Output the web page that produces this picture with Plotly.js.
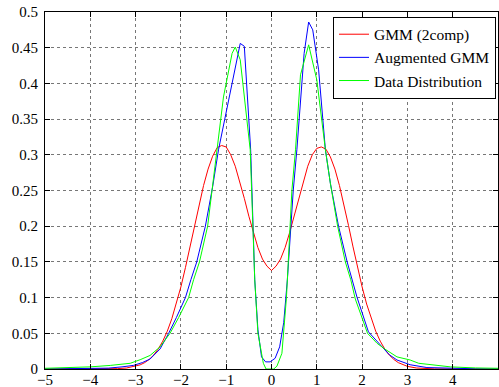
<!DOCTYPE html>
<html>
<head>
<meta charset="utf-8">
<script src="https://cdn.plot.ly/plotly-3.0.1.min.js"></script>
<style>html,body{margin:0;padding:0;background:#fff;}#chart{width:499px;height:387px;}</style>
</head>
<body>
<div id="chart"></div>
<script>
// GMM (2comp)
var gmmX = [-5, -4.5, -4, -3.6, -3.4, -3.2, -3.0, -2.9, -2.8, -2.7, -2.6, -2.5, -2.4, -2.3, -2.2, -2.1, -2.0, -1.9, -1.8, -1.7, -1.6, -1.5, -1.4, -1.3, -1.2, -1.1, -1.0, -0.9, -0.8, -0.7, -0.6, -0.5, -0.4, -0.3, -0.2, -0.1,
  0, 0.1, 0.2, 0.3, 0.4, 0.5, 0.6, 0.7, 0.8, 0.9, 1.0, 1.1, 1.2, 1.3, 1.4, 1.5, 1.6, 1.7, 1.8, 1.9, 2.0, 2.1, 2.2, 2.3, 2.4, 2.5, 2.6, 2.7, 2.8, 2.9, 3.0, 3.2, 3.4, 3.6, 4, 4.5, 5];
var gmmY = [0, 0, 0.00002, 0.0002, 0.0005, 0.0014, 0.0037, 0.0058, 0.0089, 0.0134, 0.0196, 0.028, 0.039, 0.053, 0.0705, 0.091, 0.115, 0.142, 0.171, 0.201, 0.230, 0.257, 0.280, 0.298, 0.310, 0.313, 0.311, 0.300, 0.284, 0.263, 0.239, 0.214, 0.191, 0.170, 0.154, 0.144,
  0.138, 0.144, 0.154, 0.170, 0.191, 0.214, 0.239, 0.263, 0.284, 0.300, 0.309, 0.311, 0.308, 0.297, 0.280, 0.257, 0.230, 0.201, 0.171, 0.142, 0.115, 0.091, 0.0705, 0.053, 0.039, 0.028, 0.0196, 0.0134, 0.0089, 0.0058, 0.0037, 0.0014, 0.0005, 0.0002, 0.00002, 0, 0];

// Augmented GMM
var augX = [-5, -4.5, -4, -3.6, -3.3, -3.05, -2.85, -2.68, -2.46, -2.27, -2.1, -1.9, -1.78, -1.65, -1.46, -1.3, -1.17, -1.0, -0.85, -0.69, -0.6, -0.46, -0.37, -0.3, -0.22, -0.13, -0.03, 0.08, 0.18, 0.27, 0.35, 0.48, 0.56, 0.72, 0.82, 0.91, 1.04, 1.19, 1.3, 1.48, 1.67, 1.78, 1.89, 2.14, 2.4, 2.6, 2.77, 3.06, 3.43, 4, 4.5, 5];
var augY = [0, 0.0003, 0.0006, 0.0012, 0.003, 0.005, 0.009, 0.014, 0.028, 0.05, 0.072, 0.1, 0.125, 0.15, 0.2, 0.255, 0.307, 0.36, 0.41, 0.456, 0.452, 0.307, 0.125, 0.055, 0.017, 0.01, 0.01, 0.015, 0.031, 0.065, 0.125, 0.25, 0.307, 0.442, 0.486, 0.475, 0.419, 0.307, 0.26, 0.2, 0.15, 0.125, 0.1, 0.052, 0.034, 0.02, 0.0126, 0.006, 0.002, 0.0007, 0.0003, 0];

// Data Distribution
var dataX = [-5, -4.5, -4, -3.56, -3.12, -2.9, -2.68, -2.46, -2.24, -2.05, -1.83, -1.72, -1.59, -1.41, -1.2, -1.06, -0.87, -0.8, -0.69, -0.47, -0.37, -0.3, -0.18, -0.12, 0.05, 0.12, 0.23, 0.33, 0.45, 0.53, 0.64, 0.82, 1.0, 1.19, 1.3, 1.46, 1.63, 1.75, 1.85, 2.12, 2.33, 2.5, 2.77, 3.06, 3.25, 3.5, 3.95, 4.5, 5];
var dataY = [0.001, 0.002, 0.003, 0.005, 0.008, 0.013, 0.019, 0.031, 0.05, 0.072, 0.1, 0.125, 0.15, 0.2, 0.307, 0.381, 0.442, 0.451, 0.433, 0.307, 0.125, 0.05, 0.008, 0, 0, 0.004, 0.022, 0.1, 0.25, 0.307, 0.412, 0.454, 0.405, 0.307, 0.26, 0.2, 0.15, 0.125, 0.098, 0.05, 0.036, 0.028, 0.017, 0.0126, 0.008, 0.006, 0.003, 0.0015, 0.001];

var serif = 'Liberation Serif';
var tickFont = {family: serif, size: 15, color: '#000'};

var traces = [
  {x: gmmX, y: gmmY, type: 'scatter', mode: 'lines', name: 'GMM (2comp)', line: {color: '#ff0000', width: 1}},
  {x: augX, y: augY, type: 'scatter', mode: 'lines', name: 'Augmented GMM', line: {color: '#0000ff', width: 1}},
  {x: dataX, y: dataY, type: 'scatter', mode: 'lines', name: 'Data Distribution', line: {color: '#00ff00', width: 1}}
];

var axisCommon = {
  showline: true, linecolor: '#000', linewidth: 1, mirror: 'ticks',
  ticks: 'inside', ticklen: 5, tickcolor: '#000', tickwidth: 1,
  showgrid: true, gridcolor: '#777', griddash: 'dot', gridwidth: 1,
  zeroline: false, tickfont: tickFont
};

var layout = {
  width: 499, height: 387,
  margin: {l: 45, r: 1, t: 12, b: 18, pad: 0},
  paper_bgcolor: '#fff', plot_bgcolor: '#fff',
  showlegend: true,
  font: {family: serif, size: 15, color: '#000'},
  xaxis: Object.assign({}, axisCommon, {range: [-5, 5], tick0: -5, dtick: 1, ticklabelstandoff: -3}),
  yaxis: Object.assign({}, axisCommon, {range: [0, 0.5], tick0: 0, dtick: 0.05, ticklabelstandoff: 3}),
  legend: {x: 0.9956, y: 0.987, xanchor: 'right', yanchor: 'top', bgcolor: '#fff', bordercolor: '#000', borderwidth: 1, font: {family: serif, size: 15.5, color: '#000'}, itemwidth: 30, tracegroupgap: 0}
};

Plotly.newPlot('chart', traces, layout, {displayModeBar: false, staticPlot: true});
</script>
</body>
</html>
